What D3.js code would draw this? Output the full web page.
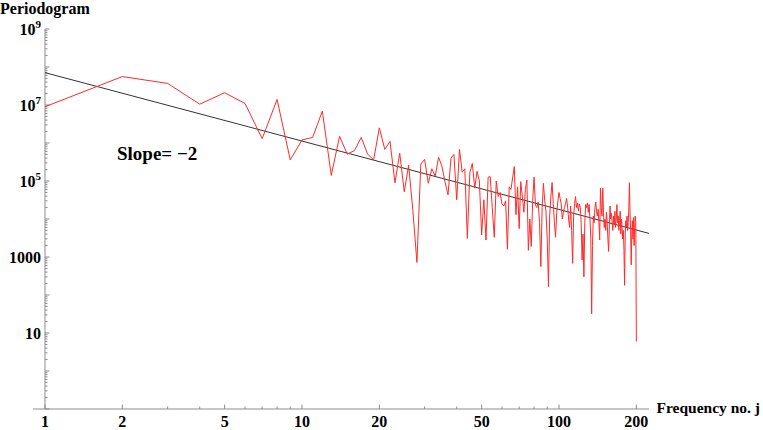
<!DOCTYPE html>
<html>
<head>
<meta charset="utf-8">
<script src="https://cdn.jsdelivr.net/npm/d3@7"></script>
<style>
  body { margin: 0; background: #fff; }
  text { font-family: "Liberation Serif", "Times New Roman", serif; font-weight: bold; fill: #000; }
</style>
</head>
<body>
<svg id="chart" width="763" height="430"></svg>
<script>
// periodogram values, frequency no. j = 1 .. 200
var periodogram = [
  9.0e6, 5.6e7, 3.7e7, 1.05e7, 2.1e7, 1.1e7, 1.3e6, 1.4e7, 3.6e5, 1.2e6,
  1.4e6, 6.9e6, 1.4e5, 1.5e6, 5.1e5, 6.3e5, 1.4e6, 5.1e5, 3.6e5, 2.5e6,
  6.8e5, 1.1e6, 9.0e4, 5.4e5, 5.2e4, 2.6e5, 1.7e4, 720, 2.8e5, 3.7e5,
  8.7e4, 2.1e5, 1.35e5, 4.2e5, 2.5e5, 9.6e4, 4.3e4, 4.0e5, 5.0e5, 3.2e4,
  6.8e5, 1.7e5, 2.1e5, 3.1e3, 1.7e5, 2.9e5, 6.5e4, 1.8e5, 1.0e5, 3.8e3,
  3.2e4, 2.8e3, 1.26e5, 1.3e5, 2.0e4, 3.3e3, 1.0e5, 3.9e4, 5.0e4, 2.5e4,
  2.2e4, 3.0e4, 1.6e3, 7.0e4, 6.0e4, 1.2e5, 2.4e5, 1.3e4, 7.0e4, 5.6e3,
  9.6e4, 4.0e4, 1.5e4, 6.0e4, 1.07e5, 1.5e3, 1.0e4, 1.9e3, 3.0e4, 1.26e5,
  2.3e4, 2.0e4, 2.8e4, 8.0e3, 560, 2.0e4, 8.7e4, 3.0e4, 1.6e4, 3.0e3,
  166, 1.2e4, 4.0e4, 9.1e4, 2.5e4, 8.0e3, 3.3e3, 1.5e4, 3.0e4, 5.0e4,
  3.5e4, 2.5e4, 1.0e4, 1.5e4, 2.0e4, 2.5e4, 3.5e4, 2.2e4, 1.0e4, 6.0e3,
  2.2e4, 5.0e3, 680, 1.2e4, 2.5e4, 3.9e4, 2.0e4, 2.6e4, 1.6e4, 2.5e4,
  2.0e4, 8.0e3, 830, 4.0e3, 300, 8.0e3, 2.4e4, 2.0e4, 2.6e4, 1.5e4,
  2.4e4, 1.0e4, 3.0e3, 32, 2.0e3, 1.2e4, 8.0e3, 2.0e4, 2.8e4, 1.6e4,
  1.2e4, 1.8e4, 8.0e3, 2.8e3, 6.5e4, 2.0e4, 1.2e4, 6.5e4, 1.5e4, 6.0e3,
  1.0e4, 5.0e3, 1.5e4, 8.0e3, 3.0e3, 1.4e3, 6.0e3, 2.2e4, 1.0e4, 1.4e4,
  8.0e3, 5.0e3, 1.2e4, 7.0e3, 1.6e4, 6.0e3, 1.0e4, 2.4e4, 8.0e3, 1.2e4,
  5.0e3, 9.0e3, 1.6e4, 4.0e3, 1.0e4, 6.0e3, 3.0e3, 5.0e3, 1.5e3, 180,
  4.0e3, 9.0e3, 6.0e3, 1.2e4, 5.0e3, 8.0e3, 2.0e4, 9.0e4, 1.5e4, 5.0e3,
  620, 4.0e3, 9.0e3, 3.0e3, 1.1e4, 2.0e3, 6.0e3, 1.2e4, 8.0e3, 6
];

// fitted power law drawn in black: value = trendA * j^trendSlope
var trendA = 7.1e7;
var trendSlope = -1.8;
var trendRange = [1, 224];

var xTickLabels = [1, 2, 5, 10, 20, 50, 100, 200];
var yTickLabels = [1e9, 1e7, 1e5, 1000, 10];

var svg = d3.select("#chart"),
    axisColor = "#8c8c8c";

var x = d3.scaleLog().domain([1, 224]).range([45, 649]);
var y = d3.scaleLog().domain([0.1, 1e9]).range([409, 29]);

// minor/major ticks on x (pointing inward, up)
var xMinor = [];
[1, 10, 100].forEach(function(d) {
  for (var k = 1; k < 10; k++) if (d * k <= 224) xMinor.push(d * k);
});
var gx = svg.append("g").attr("transform", "translate(0,409)");
gx.append("line")
    .attr("x1", 33).attr("x2", 649)
    .attr("stroke", axisColor);
gx.selectAll(".tick")
    .data(xMinor)
  .enter().append("line")
    .attr("x1", function(d) { return x(d); })
    .attr("x2", function(d) { return x(d); })
    .attr("y2", function(d) { return xTickLabels.indexOf(d) >= 0 ? -4.5 : -2.5; })
    .attr("stroke", axisColor);
gx.selectAll("text")
    .data(xTickLabels)
  .enter().append("text")
    .attr("x", function(d) { return x(d); })
    .attr("y", 18)
    .attr("text-anchor", "middle")
    .style("font-size", "16px")
    .text(function(d) { return d; });

// y axis: major tick each decade, minor at 2..9
var yMinor = [];
for (var e = -1; e <= 8; e++) {
  for (var k = 1; k < 10; k++) yMinor.push({v: k * Math.pow(10, e), major: k === 1});
}
yMinor.push({v: 1e9, major: true});
var gy = svg.append("g").attr("transform", "translate(45,0)");
gy.append("line")
    .attr("y1", 29).attr("y2", 409)
    .attr("stroke", axisColor);
gy.selectAll(".tick")
    .data(yMinor)
  .enter().append("line")
    .attr("y1", function(d) { return y(d.v); })
    .attr("y2", function(d) { return y(d.v); })
    .attr("x2", function(d) { return d.major ? 4.5 : 2.5; })
    .attr("stroke", axisColor);

var ylab = gy.selectAll(".ylab")
    .data(yTickLabels)
  .enter().append("text")
    .attr("class", "ylab")
    .attr("x", -4)
    .attr("y", function(d) { return y(d) + 5.5; })
    .attr("text-anchor", "end")
    .style("font-size", "16px");
ylab.each(function(d) {
  var t = d3.select(this), p = Math.round(Math.log10(d));
  if (d >= 1e5) {
    t.append("tspan").text("10");
    t.append("tspan").attr("dy", -7).style("font-size", "11px").text(p);
  } else {
    t.text(d);
  }
});

// black trend line
var line = d3.line()
    .x(function(d) { return x(d); })
    .y(function(d) { return y(trendA * Math.pow(d, trendSlope)); });
svg.append("path")
    .datum(trendRange)
    .attr("d", line)
    .attr("fill", "none")
    .attr("stroke", "#333")
    .attr("stroke-width", 1);

// red periodogram
var redLine = d3.line()
    .x(function(d, i) { return x(i + 1); })
    .y(function(d) { return y(d); });
svg.append("path")
    .datum(periodogram)
    .attr("d", redLine)
    .attr("fill", "none")
    .attr("stroke", "#ff2a2a")
    .attr("stroke-width", 1)
    .attr("stroke-linejoin", "miter");

// titles
svg.append("text")
    .attr("x", 0).attr("y", 14)
    .style("font-size", "16px")
    .text("Periodogram");
svg.append("text")
    .attr("x", 760).attr("y", 413)
    .attr("text-anchor", "end")
    .style("font-size", "15.5px")
    .text("Frequency no. j");
svg.append("text")
    .attr("x", 117).attr("y", 160)
    .style("font-size", "19px")
    .text("Slope= \u22122");
</script>
</body>
</html>
